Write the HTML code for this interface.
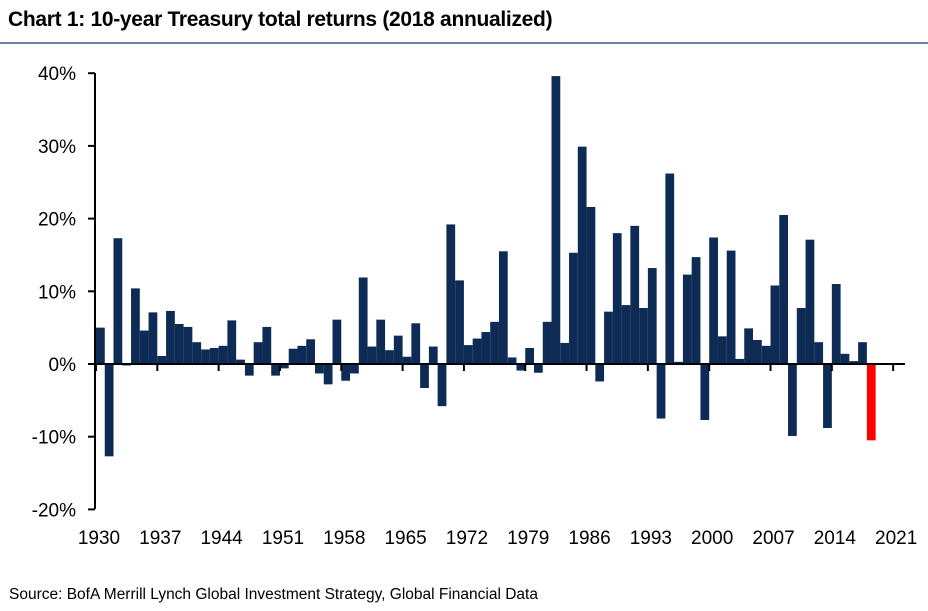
<!DOCTYPE html>
<html><head><meta charset="utf-8"><style>
body{margin:0;background:#fff;width:928px;height:611px;overflow:hidden;font-family:"Liberation Sans",Arial,sans-serif}
#title{position:absolute;left:8px;top:8px;font-size:21px;font-weight:bold;color:#000;letter-spacing:-0.3px}
#rule{position:absolute;left:0;top:42px;width:928px;height:2px;background:#6d85a3}
#src{position:absolute;left:9px;top:586px;font-size:15.5px;color:#000}
svg{position:absolute;left:0;top:0}
</style></head><body>
<div id="title">Chart 1: 10-year Treasury total returns (2018 annualized)</div>
<div id="rule"></div>
<svg id="chart" width="928" height="611"></svg>
<div id="src">Source: BofA Merrill Lynch Global Investment Strategy, Global Financial Data</div>
<script>
const startYear = 1930;
const returns = [5.0,-12.7,17.3,-0.2,10.4,4.6,7.1,1.1,7.3,5.5,5.1,3.0,2.0,2.2,2.5,6.0,0.6,-1.6,3.0,5.1,-1.6,-0.6,2.1,2.5,3.4,-1.3,-2.8,6.1,-2.3,-1.3,11.9,2.4,6.1,1.9,3.9,1.0,5.6,-3.3,2.4,-5.8,19.2,11.5,2.6,3.5,4.4,5.8,15.5,0.9,-0.9,2.2,-1.2,5.8,39.6,2.9,15.3,29.9,21.6,-2.4,7.2,18.0,8.1,19.0,7.7,13.2,-7.5,26.2,0.3,12.3,14.7,-7.7,17.4,3.8,15.6,0.7,4.9,3.3,2.5,10.8,20.5,-9.9,7.7,17.1,3.0,-8.8,11.0,1.4,0.4,3.0,-10.5];
const yTicks = [40,30,20,10,0,-10,-20];
const xTicks = [1930,1937,1944,1951,1958,1965,1972,1979,1986,1993,2000,2007,2014,2021];
const highlightYear = 2018;

const svg = document.getElementById('chart');
const NS = 'http://www.w3.org/2000/svg';
const x0 = 96, pxYear = 8.76, y0 = 364, pxPct = 7.27;
const xs = y => x0 + (y - startYear) * pxYear;
const ys = v => y0 - v * pxPct;
function mk(tag, attrs){const e=document.createElementNS(NS,tag);for(const k in attrs)e.setAttribute(k,attrs[k]);svg.appendChild(e);return e;}

returns.forEach((v,i)=>{
  const yr = startYear+i;
  const r = mk('rect',{x:xs(yr),y:Math.min(ys(v),y0),width:pxYear,height:Math.abs(ys(v)-y0),fill:yr===highlightYear?'#ff0000':'#0d2b55'});
  
  
});

const ax = mk('line',{x1:95,y1:73,x2:95,y2:509,stroke:'#000','stroke-width':2});


yTicks.forEach(t=>{
  const tk = mk('line',{x1:88,y1:ys(t),x2:95,y2:ys(t),stroke:'#000','stroke-width':2});
  
  
  const tx = mk('text',{x:76,y:ys(t)+7,'text-anchor':'end','font-size':19,'font-family':'Liberation Sans, Arial, sans-serif'});
  tx.textContent = t+'%';
  
  
});
const zl = mk('line',{x1:95,y1:y0,x2:905,y2:y0,stroke:'#000','stroke-width':2});


xTicks.forEach(t=>{
  const tk = mk('line',{x1:xs(t),y1:y0,x2:xs(t),y2:y0+7,stroke:'#000','stroke-width':2});
  
  
  const tx = mk('text',{x:xs(t)+3,y:544,'text-anchor':'middle','font-size':19,'font-family':'Liberation Sans, Arial, sans-serif'});
  tx.textContent = t;
  
  
});
</script>
</body></html>
